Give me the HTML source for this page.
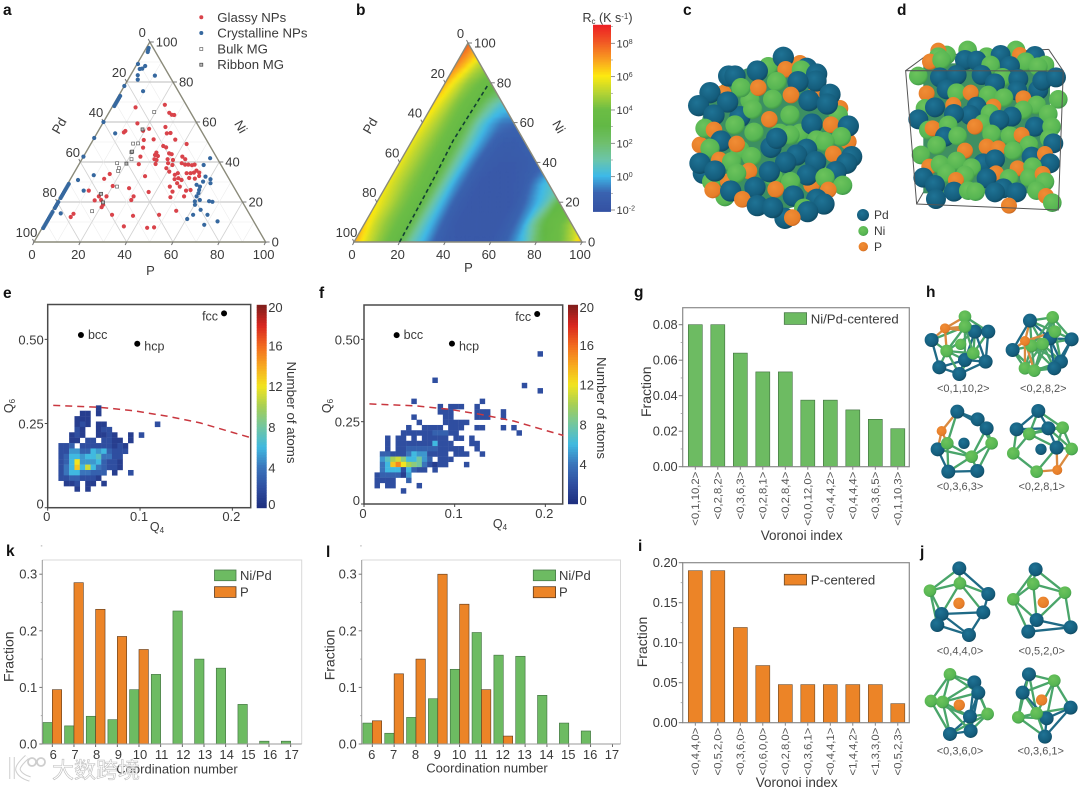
<!DOCTYPE html>
<html lang="en">
<head>
<meta charset="utf-8">
<title>Pd-Ni-P metallic glass figure</title>
<style>
html,body{margin:0;padding:0;background:#fff;}
svg{display:block;filter:blur(.35px);font-family:"Liberation Sans","Noto Sans CJK SC",sans-serif;}
text{fill:#3a3a3a;}
.lbl{font-weight:bold;font-size:15.5px;fill:#111;}
</style>
</head>
<body>
<svg id="fig" xmlns="http://www.w3.org/2000/svg" width="1080" height="789" viewBox="0 0 1080 789">
<defs>
<radialGradient id="gPd" cx="40%" cy="35%" r="70%"><stop offset="0" stop-color="#1f7395"/><stop offset=".75" stop-color="#145c7b"/><stop offset="1" stop-color="#0e4459"/></radialGradient>
<radialGradient id="gNi" cx="40%" cy="35%" r="70%"><stop offset="0" stop-color="#6cc35c"/><stop offset=".75" stop-color="#56b552"/><stop offset="1" stop-color="#3a8f48"/></radialGradient>
<radialGradient id="gP" cx="40%" cy="35%" r="70%"><stop offset="0" stop-color="#f08d35"/><stop offset=".8" stop-color="#e67d28"/><stop offset="1" stop-color="#b95f1d"/></radialGradient>
<clipPath id="clipB"><polygon points="354,242 582,242 468,43"/></clipPath>
<filter id="blurB" x="-10%" y="-10%" width="120%" height="120%"><feGaussianBlur stdDeviation="1.2"/></filter>
</defs>

<g id="panel-a">
<text class="lbl" x="3" y="15">a</text>
<g id="a-plot"></g>
<text x="150.500" y="275" text-anchor="middle" font-size="13">P</text>
<text x="237" y="129" text-anchor="middle" font-size="13" transform="rotate(60 237 129)">Ni</text>
<text x="63" y="128" text-anchor="middle" font-size="13" transform="rotate(-60 63 128)">Pd</text>
<g>
<circle cx="201.300" cy="17.300" r="2" fill="#d9434a"/>
<text x="217.300" y="22" font-size="13.200">Glassy NPs</text>
<circle cx="201.300" cy="33" r="2" fill="#36689f"/>
<text x="217.300" y="37.500" font-size="13.200">Crystalline NPs</text>
<rect x="199.800" y="47.500" width="3" height="3" fill="#fff" stroke="#666" stroke-width=".7"/>
<text x="217.300" y="53.500" font-size="13.200">Bulk MG</text>
<rect x="199.800" y="63.200" width="3" height="3" fill="#bbb" stroke="#444" stroke-width=".7"/>
<text x="217.300" y="69" font-size="13.200">Ribbon MG</text>
</g>
</g>

<g id="panel-b">
<text class="lbl" x="356" y="15">b</text>
<g id="b-plot"></g>
<text x="468.500" y="272" text-anchor="middle" font-size="13">P</text>
<text x="555" y="129" text-anchor="middle" font-size="13" transform="rotate(60 555 129)">Ni</text>
<text x="374" y="128" text-anchor="middle" font-size="13" transform="rotate(-60 374 128)">Pd</text>
<g id="b-colorbar"></g>
<text x="607.500" y="22" text-anchor="middle" font-size="12.500">R<tspan font-size="8" dy="2">c</tspan><tspan dy="-2"> (K s</tspan><tspan font-size="8" dy="-3">-1</tspan><tspan dy="3">)</tspan></text>
</g>

<g id="panel-c">
<text class="lbl" x="683" y="15">c</text>
<g transform="translate(640,0) scale(.3333)">
<circle cx="400" cy="410" r="220" fill="#3c8f62"/>
</g>
<g id="c-atoms" transform="translate(640,0) scale(.3333)"></g>
</g>
<g id="panel-d">
<text class="lbl" x="897" y="15">d</text>
<g transform="translate(640,0) scale(.3333)">
<path d="M857 168 L1226 148 M857 168 L797 212 M1226 148 L1270 213 M830 612 L860 560" fill="none" stroke="#555" stroke-width="3"/>
<rect x="850" y="190" width="380" height="390" fill="#3f8f62"/>
</g>
<g id="d-atoms" transform="translate(640,0) scale(.3333)"></g>
<g transform="translate(640,0) scale(.3333)">
<path d="M797 212 L1270 213 L1255 630 L830 612 Z" fill="none" stroke="#555" stroke-width="3"/>
</g>
<g>
<circle cx="863" cy="215" r="6" fill="url(#gPd)"/>
<text x="874" y="219" font-size="12">Pd</text>
<circle cx="863.300" cy="231" r="5" fill="url(#gNi)"/>
<text x="874" y="235" font-size="12">Ni</text>
<circle cx="863.300" cy="246.700" r="4.700" fill="url(#gP)"/>
<text x="874" y="251" font-size="12">P</text>
</g>
</g>

<g id="panel-e">
<text class="lbl" x="3" y="298">e</text>
<g id="e-plot"></g>
<text x="13" y="406" text-anchor="middle" font-size="12.500" transform="rotate(-90 13 406)">Q<tspan font-size="8" dy="2">6</tspan></text>
<text x="157" y="531" text-anchor="middle" font-size="12.500">Q<tspan font-size="8" dy="2">4</tspan></text>
<text x="287" y="412.500" text-anchor="middle" font-size="13.300" transform="rotate(90 287 412.500)">Number of atoms</text>
</g>
<g id="panel-f">
<text class="lbl" x="319" y="298">f</text>
<g id="f-plot"></g>
<text x="331" y="406" text-anchor="middle" font-size="12.500" transform="rotate(-90 331 406)">Q<tspan font-size="8" dy="2">6</tspan></text>
<text x="500" y="528" text-anchor="middle" font-size="12.500">Q<tspan font-size="8" dy="2">4</tspan></text>
<text x="597" y="408" text-anchor="middle" font-size="13.300" transform="rotate(90 597 408)">Number of atoms</text>
</g>

<g id="panel-g">
<text class="lbl" x="634" y="297">g</text>
<g id="g-plot"></g>
<rect x="784.300" y="312.700" width="22.300" height="11.700" fill="#6dbb62" stroke="#4a7a4a" stroke-width=".8"/>
<text x="810.700" y="323.500" font-size="13.200">Ni/Pd-centered</text>
<text x="651" y="391.700" text-anchor="middle" font-size="14" transform="rotate(-90 651 391.700)">Fraction</text>
<text x="801.700" y="540" text-anchor="middle" font-size="13.500">Voronoi index</text>
</g>
<g id="panel-i">
<text class="lbl" x="638" y="551">i</text>
<g id="i-plot"></g>
<rect x="784.300" y="574.300" width="22.300" height="10.700" fill="#ec8427" stroke="#6a4a2a" stroke-width=".8"/>
<text x="810.700" y="584.500" font-size="13.200">P-centered</text>
<text x="647" y="642" text-anchor="middle" font-size="14" transform="rotate(-90 647 642)">Fraction</text>
<text x="796.700" y="787" text-anchor="middle" font-size="13.500">Voronoi index</text>
</g>

<g id="panel-h">
<text class="lbl" x="926" y="297">h</text>
<g id="h-clusters" transform="translate(620,280) scale(.3333)"></g>
<g font-size="11" text-anchor="middle">
<text x="963.300" y="392" style="fill:#555">&lt;0,1,10,2&gt;</text>
<text x="1043.300" y="392" style="fill:#555">&lt;0,2,8,2&gt;</text>
<text x="960" y="490" style="fill:#555">&lt;0,3,6,3&gt;</text>
<text x="1041.700" y="490" style="fill:#555">&lt;0,2,8,1&gt;</text>
</g>
</g>
<g id="panel-j">
<text class="lbl" x="920" y="557">j</text>
<g id="j-clusters" transform="translate(620,540) scale(.3333)"></g>
<g font-size="11" text-anchor="middle">
<text x="960" y="654.500" style="fill:#555">&lt;0,4,4,0&gt;</text>
<text x="1041.700" y="654.500" style="fill:#555">&lt;0,5,2,0&gt;</text>
<text x="960" y="754.500" style="fill:#555">&lt;0,3,6,0&gt;</text>
<text x="1040.700" y="754.500" style="fill:#555">&lt;0,3,6,1&gt;</text>
</g>
</g>

<g id="panel-k">
<text class="lbl" x="6" y="556">k</text>
<g id="k-plot"></g>
<rect x="214.500" y="570" width="21.500" height="10.700" fill="#6dbb62" stroke="#4a7a4a" stroke-width=".8"/>
<text x="240" y="580" font-size="13">Ni/Pd</text>
<rect x="214.500" y="586.700" width="21.500" height="10.700" fill="#ec8427" stroke="#5a3a1f" stroke-width=".8"/>
<text x="240" y="596.500" font-size="13">P</text>
<text x="13.500" y="656.700" text-anchor="middle" font-size="14" transform="rotate(-90 13.500 656.700)">Fraction</text>
<text x="177" y="773.500" text-anchor="middle" font-size="13">Coordination number</text>
</g>
<g id="panel-l">
<text class="lbl" x="326" y="557">l</text>
<g id="l-plot"></g>
<rect x="533.300" y="570" width="22.300" height="10.700" fill="#6dbb62" stroke="#4a7a4a" stroke-width=".8"/>
<text x="559" y="580" font-size="13">Ni/Pd</text>
<rect x="533.300" y="586.700" width="22.300" height="11" fill="#ec8427" stroke="#5a3a1f" stroke-width=".8"/>
<text x="559" y="596.500" font-size="13">P</text>
<text x="334.500" y="655" text-anchor="middle" font-size="14" transform="rotate(-90 334.500 655)">Fraction</text>
<text x="487" y="772.500" text-anchor="middle" font-size="13">Coordination number</text>
</g>

<g opacity=".95">
<path d="M12 757 L12 779 M27 757 Q17 766 18 770 Q20 776 30 779" fill="none" stroke="#ccc" stroke-width="5.500"/>
<path d="M12 757 L12 779 M27 757 Q17 766 18 770 Q20 776 30 779" fill="none" stroke="#fff" stroke-width="3.500"/>
<circle cx="32" cy="762" r="4" fill="none" stroke="#ccc" stroke-width="1.800"/>
<circle cx="41" cy="762" r="4" fill="none" stroke="#ccc" stroke-width="1.800"/>
<text x="52" y="778" font-size="22" style="fill:#fff;stroke:#bbb;stroke-width:.6px;font-family:'Noto Sans CJK SC',sans-serif">大数跨境</text>
</g>
</svg>

<script>
/* ---------- panel a data: [P, Ni] composition points ---------- */
const glassyNPs=[[10.2,67.3],[22.2,68.6],[26.1,64.6],[27.7,63.6],[28.8,63.5],[15,59.3],[21.4,56.6],[28,57.5],[11.4,54.8],[11.7,55.5],[19.3,55.6],[30.2,54.3],[31.7,54.5],[26,51.3],[35.4,51.2],[21.9,51],[23.5,47.2],[31.8,48],[33.4,47.3],[41.4,49],[24.6,42.7],[30.5,44.7],[30.5,43.5],[32,43],[31.3,41.4],[32.4,41],[36.2,44.3],[37.5,43.9],[37,41.4],[39.5,41],[38.2,39.4],[40.5,38.5],[38.7,36.9],[40.8,35.2],[42.7,42.7],[44.6,41.4],[44.1,39.4],[45.9,38.7],[47.3,38.7],[49,38.4],[50,38.7],[52.3,35.7],[51.7,34.7],[54,34.7],[50.4,34.4],[48.7,34.4],[51,32],[53.6,31.7],[54.8,33],[44,33.6],[44.9,34.4],[45,31.4],[46.4,31.9],[48.2,31],[47.1,29.4],[49.1,27.7],[44.8,27.7],[47.2,25.2],[52.8,25.7],[54.6,26],[53.4,22.8],[47.7,22.4],[33,39],[25.8,38.9],[31.5,32.9],[27.6,26.9],[37,25],[15.7,34],[14.5,31.6],[20,28],[10.8,25.7],[19.9,22.8],[16.6,22.8],[15.8,20.8],[18.5,21],[20.5,18.6],[20.5,17.4],[31.5,21],[31.6,22.8],[26.9,13.6],[36.2,13.1],[47.2,13.6],[53.6,15.6],[34.9,7.8],[45.3,7.1],[48.2,7.3],[10,14.1],[9.6,12.5]];
const crystallineNPs=[[1.3,96],[1,97],[1.6,95],[0.4,89],[0,78],[0.7,73],[0.7,72],[0.7,71],[0.7,70],[0.7,69],[0.7,68],[0,60],[0,52],[0,42.7],[0.5,29],[0.5,28],[0.5,27],[0.5,26],[0.5,25],[0.5,24],[0.5,23],[0.5,22],[0.5,20],[0.5,19],[0.5,18],[0.5,17],[0.5,15],[0.5,14],[0.5,13],[0.5,12],[0.5,11],[0.5,10],[0.5,9],[0.5,8],[0.5,7],[3.4,86.7],[2.4,86.5],[4,88],[3.1,83.4],[4.2,81.2],[10.6,83.2],[9.4,75.4],[7.9,54.3],[9.1,33.4],[3.5,31],[8.6,25.7],[4.4,14.3],[55.1,41.9],[54,38.5],[57.7,32.7],[60.5,31.4],[61.5,29.4],[57.9,30.2],[55.9,28.6],[57.8,27.7],[58.3,26],[58.8,24.4],[58.8,22.8],[59.3,20.3],[60.2,18.6],[61.1,21],[65.4,20.4],[67,20.1],[63.9,16.1],[68.1,13.6],[61.9,13.6],[60.4,11.5],[69.2,8.6],[74.1,10.3]];
const bulkMG=[[19.4,65],[18.2,49.2],[20.3,49.3],[21.4,41.4],[16.2,39.4],[18.2,36.9],[18.6,35.5],[17.4,15.4],[22,27.7],[19.6,44.9]];
const ribbonMG=[[18.7,56.3],[19.8,45.2],[20.3,39.2],[16.9,24.1],[19.9,19.8]];
const ternaryTicks=[0,20,40,60,80,100];

/* ---------- panel b data: log10(Rc) on a grid; rows are Ni = 0,10,..; columns are P = 0,5,.. ---------- */
const rcNiStep=10;
const rcPStep=5;
const rcLogGrid=[
[7.0,5.6,4.6,3.9,3.0,1.0,0,-1,-1.5,-1.6,-1.7,-1.7,-1.6,-1.3,-0.6,0.3,2.2,3.5,3.9,4.8,7.0],
[6.4,5.2,4.4,3.9,3.0,1.0,-0.2,-1.2,-1.6,-1.7,-1.7,-1.7,-1.6,-1.2,-0.3,1.6,3.4,3.8,4.6,6.0],
[6.0,5.2,4.4,3.9,3.0,1.0,-0.3,-1.3,-1.6,-1.7,-1.7,-1.7,-1.6,-1.0,-0.2,0.8,3.0,3.5],
[5.8,5.0,4.3,3.9,3.0,1.0,-0.4,-1.2,-1.6,-1.7,-1.7,-1.6,-1.4,-0.6,0.3,0.8],
[5.8,5.0,4.3,3.8,2.9,1.0,-0.3,-1.2,-1.5,-1.6,-1.6,-1.5,-1.2,-1.0],
[5.8,5.0,4.3,3.8,2.8,1.0,-0.2,-1.0,-1.4,-1.5,-1.3,-1.1],
[6.0,5.1,4.3,3.8,2.7,0.8,-0.2,-0.8,-0.9,-0.9],
[6.3,5.3,4.3,3.8,3.0,1.5,0.5,0.4],
[6.8,5.6,4.5,4.0,3.5,3.2],
[7.5,6.5,5.2,4.5],
[8.0,7.0]];
const rcDashNi=[0,33,51,64,79];
const rcDashP=[20,19,18,18.6,19.3];
const rcColorValues=[-2,-1,0,1,2,3,4,5,6,7,8,9];
const rcColors=['#3553a4','#3a63b0','#3db9e8','#6cc5a8','#6fbf6c','#62b845','#6cbd45','#b6d433','#fde910','#f99d20','#f15a24','#ed2224'];
const rcTickExponents=[-2,0,2,4,6,8];

/* ---------- panels e/f data: Q4/Q6 histograms; each row is [Q6 bin, first Q4 bin, counts...] ---------- */
const binQ4=0.0058, binQ6=0.016;
const countsE=[
[18,9,[1]],[17,6,[1,1,0,1]],[16,5,[1,1,1]],[15,5,[1,2,1,0,1,1]],[15,20,[2]],
[14,5,[2,1,0,0,1,2,2]],[13,4,[1,2,1,0,0,1,1,2,1,0,0,1,0,2]],[12,4,[1,1,0,2,2,0,2,2,1,1,0,1]],
[11,2,[2,2,3,0,2,2,2,2,2,2,1,2,1]],[10,2,[2,2,5,5,3,3,6,5,6,3,2,2,2]],[9,2,[2,3,6,6,5,6,6,7,4,4,2,2]],
[8,2,[2,3,6,12,5,5,5,6,3,2,2,1]],[7,2,[2,4,6,13,6,11,6,4,3,2,2,1]],[6,2,[2,4,6,6,4,4,3,3,3,0,1]],[6,15,[2]],
[5,2,[2,2,3,3,2,2,2,1]],[4,3,[1,1,2,0,1,1,0,1]],[3,5,[1,0,1]]];
const countsF=[
[28,33,[2]],[23,13,[2]],[22,30,[2]],[21,33,[2]],[19,9,[2]],[19,22,[2]],
[18,14,[2,0,2,2,2,0,0,2]],[17,14,[2,2,2,0,0,0,0,2,2,2,0,0,2]],[16,9,[2]],[16,15,[2,2,0,0,0,0,2,2,2,0,0,2]],
[15,10,[2,0,0,0,0,2,2,2,2,2]],[14,8,[2,0,0,2,2,2,2,0,2,2,2,0,0,2,2,0,0,0,2,0,2]],[13,7,[2,2,2,2,2,2,3,3,3,2,2]],[13,29,[2]],
[12,4,[2,0,2,2,0,2,0,2,2,2,2,2,0,2,2,0,2]],[11,4,[2,0,2,2,2,2,2,2,2,6,2,2,2,0,0,0,2,2]],
[10,4,[2,0,2,2,3,3,3,3,3,3,2,2,2,2,2,0,0,2]],[9,3,[3,3,2,2,2,4,6,5,5,2,2,2,2,0,2,2,2,0,0,2]],
[8,3,[5,7,10,11,9,6,6,8,5,3,0,2,2,2]],[7,3,[4,6,13,15,12,10,9,8,4,2,1,2,2,0,0,0,2]],[6,3,[4,6,6,6,2,6,3,2,2,0,2]],
[5,2,[2,3,3,3,3,1,5]],[4,2,[2,2,2,2,0,0,3]],[3,2,[2,0,2,2,0,0,0,0,2]],[2,7,[2]]];
const dashQ4=[0.006,0.057,0.093,0.129,0.165,0.201,0.22];
const dashQ6=[0.304,0.298,0.288,0.272,0.252,0.223,0.208];
const refNames=['bcc','hcp','fcc'];
const refQ4=[0.036,0.097,0.191];
const refQ6=[0.513,0.487,0.577];
const q4Ticks=[0,0.1,0.2];
const q6Ticks=[0,0.25,0.5];
const q6TickLabels=['0','0.25','0.50'];
const countTicks=[0,4,8,12,16,20];
const countColorValues=[0,2,4,6,8,10,12,14,16,18,20];
const countColors=['#1e2e7e','#2f4ea0','#3a74bb','#40b9e0','#72c6a0','#a6cf55','#f2e41f','#f7a81f','#f2691f','#d8251f','#7e1d1c'];

/* ---------- panels g/i data ---------- */
const voronoiG=['<0,1,10,2>','<0,2,8,2>','<0,3,6,3>','<0,2,8,1>','<0,2,8,4>','<0,0,12,0>','<0,4,4,2>','<0,4,4,4>','<0,3,6,5>','<0,1,10,3>'];
const fractionG=[0.08,0.08,0.064,0.0534,0.0534,0.0375,0.0375,0.032,0.0267,0.0214];
const ticksG=[0,0.02,0.04,0.06,0.08];
const voronoiI=['<0,4,4,0>','<0,5,2,0>','<0,3,6,0>','<0,6,0,0>','<0,2,8,0>','<0,3,6,1>','<0,4,4,1>','<1,4,4,2>','<1,3,3,0>','<0,5,2,3>'];
const fractionI=[0.19,0.19,0.119,0.0714,0.0476,0.0476,0.0476,0.0476,0.0476,0.0238];
const ticksI=[0,0.05,0.1,0.15,0.2];

/* ---------- panels k/l data ---------- */
const coordNumbers=[6,7,8,9,10,11,12,13,14,15,16,17];
const niPdK=[0.038,0.032,0.049,0.043,0.096,0.123,0.235,0.15,0.134,0.07,0.005,0.005];
const pK=[0.096,0.285,0.238,0.19,0.167,0,0,0,0,0,0,0];
const niPdL=[0.037,0.019,0.047,0.08,0.132,0.197,0.157,0.155,0.086,0.037,0.023,0];
const pL=[0.041,0.124,0.15,0.3,0.247,0.096,0.014,0,0,0,0,0];
const fractionTicks=[0,0.1,0.2,0.3];

/* ---------- illustrative atom models ---------- */
const sceneC="P 480 190;P 250 280;Ni 385 200;Pd 500 205;P 530 275;P 600 325;Ni 595 345;P 625 425;P 180 435;Pd 190 520;Ni 215 545;P 265 545;Ni 255 590;P 515 555;Ni 560 530;Pd 435 655;Ni 330 300;Ni 420 400;Ni 300 450;Ni 480 400;Ni 400 530;Pd 300 350;Pd 430 172;Pd 266 228;Pd 285 228;Pd 352 213;P 437 208;Ni 484 210;Pd 530 222;Pd 528 243;Ni 410 245;Pd 474 245;Pd 210 278;Ni 303 263;P 355 263;Pd 570 283;P 453 285;Ni 398 298;Pd 176 317;Pd 263 306;Pd 507 302;Pd 562 312;Pd 222 345;Ni 338 328;Ni 450 345;P 388 358;Ni 285 375;Pd 516 372;P 573 374;Pd 625 378;Ni 195 385;P 222 390;Ni 342 397;Ni 450 405;Ni 530 420;Ni 604 410;Pd 243 423;P 290 432;Ni 555 425;Pd 393 442;Pd 410 415;P 580 462;Ni 210 445;P 238 480;Ni 335 470;Pd 500 448;Pd 635 470;Pd 180 490;Ni 275 485;Pd 620 490;Pd 470 465;Pd 437 487;Pd 527 485;Pd 225 513;P 327 513;Pd 388 515;Ni 290 520;Pd 588 515;Pd 502 525;Ni 555 533;Ni 452 545;Pd 345 562;P 407 568;Ni 608 556;P 218 570;Pd 272 573;P 565 570;Pd 460 588;P 307 598;Pd 352 617;Pd 398 623;Pd 530 598;Pd 552 612;Ni 491 625;Pd 503 635;P 457 653";
const sceneD="Ni 920 165;P 895 152;Ni 895 170;Ni 983 150;Ni 1128 150;P 1140 165;P 870 185;Ni 905 180;Ni 1040 170;Pd 1185 168;Pd 975 180;Pd 1010 182;Pd 1082 165;Ni 1052 195;Ni 1157 185;Ni 1215 195;Pd 1110 198;Ni 1195 200;Ni 835 228;Pd 900 232;Pd 950 225;Pd 1025 225;Ni 1088 232;Pd 1135 237;Pd 1195 270;Pd 1207 242;Pd 1248 232;Pd 920 268;Pd 1065 250;Ni 950 278;P 860 280;P 992 278;Pd 1132 272;Ni 1045 285;Ni 1092 293;Ni 1255 298;P 1150 295;Ni 855 325;Pd 885 322;P 940 315;P 1060 320;Ni 1190 315;Pd 1010 320;Pd 990 345;Pd 942 342;Ni 1050 340;Ni 1150 330;Pd 1115 350;Ni 1225 342;Pd 835 358;Ni 865 390;P 878 385;Ni 925 375;Ni 1030 370;P 1005 380;Pd 1078 360;Pd 1185 380;Ni 1235 380;Pd 915 410;Ni 953 408;Ni 1055 402;Ni 1110 407;P 1145 405;Ni 890 436;Ni 1228 415;Pd 1240 430;P 975 452;Ni 1167 435;P 1040 440;P 1075 445;Ni 1120 452;Ni 843 465;P 868 500;Ni 900 493;Ni 950 483;Pd 1175 470;P 1215 462;Pd 1030 490;Pd 1065 478;Ni 995 503;Pd 1230 490;P 1133 505;Ni 1178 500;Ni 920 520;Ni 975 525;P 1068 520;Pd 850 533;P 948 540;Pd 1040 535;Ni 1107 535;Ni 1168 533;P 1208 522;Ni 1215 545;Pd 885 555;Pd 942 575;Ni 985 572;Ni 1007 575;Pd 1090 565;Pd 1065 577;Pd 1130 577;Ni 1190 572;Pd 888 597;P 1218 588;Ni 1237 608;P 1107 617";
const clustersH=[
"Pd 935 180;Pd 1105 155;Pd 1065 155;Pd 958 262;Pd 1018 282;Pd 1097 245;Pd 1035 240;Ni 1035 110;Ni 1035 140;Ni 980 213;Ni 1060 220;cNi 1022 193;P 975 145",
"Pd 1230 122;Pd 1178 210;Pd 1355 178;Pd 1323 245;Pd 1303 265;Pd 1290 175;Ni 1298 112;Ni 1305 155;Ni 1235 198;Ni 1268 192;Ni 1215 265;Ni 1243 272;P 1215 183",
"Pd 1012 395;Pd 1073 418;Pd 1100 445;Pd 953 508;Pd 985 575;Pd 1072 573;cPd 1032 490;Ni 1115 490;Ni 1055 530;Ni 982 490;P 965 453",
"Pd 1255 393;Pd 1190 448;Pd 1285 445;cPd 1263 508;Pd 1310 503;Ni 1328 443;Ni 1355 507;Ni 1180 520;Ni 1228 462;Ni 1250 575;P 1312 570"];
const clustersJ=[
"Pd 1018 85;Pd 1105 162;Pd 1090 217;Pd 965 222;Pd 952 255;Pd 1047 285;Ni 930 152;Ni 1020 130;cP 1017 190",
"Pd 1247 88;Pd 1352 262;Pd 1250 240;Pd 1225 275;Ni 1180 178;Ni 1240 132;Ni 1335 158;cP 1270 187",
"Pd 1063 427;Pd 1075 458;Pd 1050 530;Pd 990 582;Pd 1052 573;Ni 990 403;Ni 933 483;Ni 968 486;Ni 1103 522;cP 1018 495",
"Pd 1227 403;Pd 1208 458;Pd 1352 503;Pd 1280 535;Pd 1275 590;Ni 1303 422;Ni 1195 532;Ni 1250 520;cP 1265 480"];

/* ---------- helpers ---------- */
const NS='http://www.w3.org/2000/svg';
function mk(tag,parent,props){
  const n=document.createElementNS(NS,tag);
  for(const k in props)n.setAttribute(k,props[k]);
  parent.appendChild(n);
  return n;
}
function word(parent,x,y,str,size,anchor){
  const t=mk('text',parent,{x:x,y:y,'font-size':size,'text-anchor':anchor||'middle'});
  t.textContent=str;
  return t;
}
function hex(c){return [1,3,5].map(i=>parseInt(c.substr(i,2),16));}
function ramp(values,colors,v){
  if(v<=values[0])return colors[0];
  for(let i=1;i<values.length;i++){
    if(v<=values[i]){
      const f=(v-values[i-1])/(values[i]-values[i-1]);
      const a=hex(colors[i-1]),b=hex(colors[i]);
      return 'rgb('+a.map((c,j)=>Math.round(c+(b[j]-c)*f)).join(',')+')';
    }
  }
  return colors[colors.length-1];
}
function linePath(pts){return pts.map((p,i)=>(i?'L':'M')+p[0].toFixed(2)+' '+p[1].toFixed(2)).join(' ');}

/* ---------- ternary frame ---------- */
function ternaryProjection(x0,y0,w,h){
  return (P,Ni)=>[x0+w*(P+Ni/2)/100,y0-h*Ni/100];
}
function ternaryFrame(g,T,withGrid){
  if(withGrid){
    for(let v=10;v<100;v+=10){
      const major=v%20===0;
      const segs=[[T(v,0),T(v,100-v)],[T(100-v,0),T(0,100-v)],[T(0,v),T(100-v,v)]];
      segs.forEach((s,k)=>{
        const gl=mk('line',g,{x1:s[0][0],y1:s[0][1],x2:s[1][0],y2:s[1][1],stroke:major?(k===2?'#bdbdbd':'#d2d2d2'):'#ececec','stroke-width':major?(k===2?1.1:.8):.6});
        
        
      });
    }
  }
  const a=T(0,0),b=T(100,0),c=T(0,100);
  const frame=mk('polygon',g,{points:[a,b,c].map(p=>p.join(',')).join(' '),fill:'none',stroke:'#8a8a7a','stroke-width':1.4});
  
  
  ternaryTicks.forEach(v=>{
    const pb=T(v,0),pr=T(100-v,v),pl=T(0,100-v);
    const t1=mk('line',g,{x1:pb[0],y1:pb[1],x2:pb[0]-1.5,y2:pb[1]+3,stroke:'#777','stroke-width':1});
    
    
    const t2=mk('line',g,{x1:pr[0],y1:pr[1],x2:pr[0]+4,y2:pr[1],stroke:'#777','stroke-width':1});
    
    
    const t3=mk('line',g,{x1:pl[0],y1:pl[1],x2:pl[0]-1.5,y2:pl[1]-3,stroke:'#777','stroke-width':1});
    
    
    const lb=word(g,pb[0]-2,pb[1]+17,String(v),13);
    
    
    const lr=word(g,pr[0]+6,pr[1]+4.5,String(v),13,'start');
    
    
    const ll=word(g,pl[0]-7.5,pl[1]-5,String(v),13);
    
    
  });
}

/* ---------- panel a ---------- */
(function(){
  const g=document.getElementById('a-plot');
  const T=ternaryProjection(34,242,231.6,200);
  ternaryFrame(g,T,true);
  glassyNPs.forEach(d=>{
    const p=T(d[0],d[1]);
    const c=mk('circle',g,{cx:p[0],cy:p[1],r:2.1,fill:'#d9434a'});
    
    
  });
  crystallineNPs.forEach(d=>{
    const p=T(d[0],d[1]);
    const c=mk('circle',g,{cx:p[0],cy:p[1],r:2.1,fill:'#36689f'});
    
    
  });
  bulkMG.forEach(d=>{
    const p=T(d[0],d[1]);
    const c=mk('rect',g,{x:p[0]-1.5,y:p[1]-1.5,width:3,height:3,fill:'#fff',stroke:'#666','stroke-width':.7});
    
    
  });
  ribbonMG.forEach(d=>{
    const p=T(d[0],d[1]);
    const c=mk('rect',g,{x:p[0]-1.5,y:p[1]-1.5,width:3,height:3,fill:'#bbb',stroke:'#444','stroke-width':.7});
    
    
  });
})();

/* ---------- panel b ---------- */
function rcAt(P,Ni){
  const rowValue=(row,p)=>{
    const u=Math.max(0,p/rcPStep);
    const i=Math.floor(u);
    if(i>=row.length-1)return row[row.length-1];
    return row[i]+(row[i+1]-row[i])*(u-i);
  };
  const w=Math.min(rcLogGrid.length-1,Math.max(0,Ni/rcNiStep));
  const j=Math.floor(w);
  const lo=rowValue(rcLogGrid[j],P);
  if(j>=rcLogGrid.length-1)return lo;
  return lo+(rowValue(rcLogGrid[j+1],P)-lo)*(w-j);
}
(function(){
  const g=document.getElementById('b-plot');
  const T=ternaryProjection(354,242,228,199);
  const clip=mk('g',g,{'clip-path':'url(#clipB)'});
  const blur=mk('g',clip,{filter:'url(#blurB)'});
  const dN=2.5,dP=1.25;
  for(let n=-5;n<102;n+=dN){
    for(let p=-6;p<106-n;p+=dP){
      const col=ramp(rcColorValues,rcColors,rcAt(p+dP/2,n+dN/2));
      const pts=[T(p,n),T(p+dP,n),T(p+dP,n+dN),T(p,n+dN)];
      const cell=mk('polygon',blur,{points:pts.map(q=>q[0].toFixed(1)+','+q[1].toFixed(1)).join(' '),fill:col,stroke:col,'stroke-width':.5});
      
      
    }
  }
  ternaryFrame(g,T,false);
  const dash=mk('path',g,{d:linePath(rcDashNi.map((n,i)=>T(rcDashP[i],n))),fill:'none',stroke:'#123f33','stroke-width':1.6,'stroke-dasharray':'4 3'});
  
  
  /* colorbar */
  const cb=document.getElementById('b-colorbar');
  const yOf=v=>210-(v+2)*16.67;
  for(let v=-2.1;v<9;v+=0.1){
    const r=mk('rect',cb,{x:593,y:yOf(v+0.1)-.2,width:18,height:2.1,fill:ramp(rcColorValues,rcColors,v)});
    
    
  }
  rcTickExponents.forEach(e=>{
    const y=yOf(e);
    const t=mk('line',cb,{x1:611,y1:y,x2:615,y2:y,stroke:'#777','stroke-width':.8});
    
    
    const m=mk('line',cb,{x1:611,y1:y-16.67,x2:613,y2:y-16.67,stroke:'#999','stroke-width':.7});
    
    
    const lab=word(cb,616.5,y+4,'10',11,'start');
    
    
    const sup=document.createElementNS(NS,'tspan');
    sup.setAttribute('font-size','7');
    sup.setAttribute('dy','-3.5');
    sup.textContent=String(e);
    lab.appendChild(sup);
  });
})();

/* ---------- panels e, f ---------- */
function bondHeatmap(id,rows,x0,y0,sx,sy,right,top,cbX,cbTopY,cbBottomY,lab){
  const g=document.getElementById(id);
  const X=v=>x0+v*sx, Y=v=>y0-v*sy;
  rows.forEach(r=>{
    r[2].forEach((n,ci)=>{
      if(!n)return;
      const i=r[1]+ci;
      const cell=mk('rect',g,{x:X(i*binQ4),y:Y((r[0]+1)*binQ6),width:binQ4*sx+.2,height:binQ6*sy+.2,fill:ramp(countColorValues,countColors,n)});
      
      
    });
  });
  const frame=mk('rect',g,{x:x0,y:top,width:right-x0,height:y0-top,fill:'none',stroke:'#4a4a4a','stroke-width':1.5});
  
  
  const dash=mk('path',g,{d:linePath(dashQ4.map((q,i)=>[X(q),Y(dashQ6[i])])),fill:'none',stroke:'#c9373f','stroke-width':1.5,'stroke-dasharray':'7 5'});
  
  
  refNames.forEach((name,i)=>{
    const px=X(refQ4[i]),py=Y(refQ6[i]);
    const c=mk('circle',g,{cx:px,cy:py,r:3,fill:'#000'});
    
    
    const t=name==='fcc'?word(g,px-6,py+7,name,12.5,'end'):word(g,px+7,py+(name==='hcp'?7:4),name,12.5,'start');
    
    
  });
  q4Ticks.forEach(v=>{
    const tk=mk('line',g,{x1:X(v),y1:y0,x2:X(v),y2:y0+3,stroke:'#444','stroke-width':1});
    
    
    const t=word(g,X(v)-1,lab.xLabelY,v===0?'0':String(v),13);
    
    
  });
  q6Ticks.forEach((v,i)=>{
    const tk=mk('line',g,{x1:x0-3,y1:Y(v),x2:x0,y2:Y(v),stroke:'#444','stroke-width':1});
    
    
    const t=word(g,x0-4,Y(v)+(v===0?lab.zeroDy:5),q6TickLabels[i],13,'end');
    
    
  });
  const cbY=v=>cbBottomY-(cbBottomY-cbTopY)*v/20;
  for(let v=0;v<20;v+=0.25){
    const s=mk('rect',g,{x:cbX,y:cbY(v+0.25)-.2,width:10,height:(cbBottomY-cbTopY)/80+.4,fill:ramp(countColorValues,countColors,v+0.125)});
    
    
  }
  countTicks.forEach(v=>{
    const t=word(g,cbX+11.5,cbY(v)+(v===20?7:v===0?1:5),String(v),13,'start');
    
    
  });
}
bondHeatmap('e-plot',countsE,47.7,507.7,923.3,336.7,250.7,304.5,256.7,305,508,{xLabelY:521,zeroDy:1});
bondHeatmap('f-plot',countsF,364,504,906.7,329.3,562.7,305,568,305,504,{xLabelY:518,zeroDy:1});

/* ---------- panels g, i ---------- */
function voronoiBars(id,cats,vals,ticks,y0,top,scale,fmtDigits,fill,edge){
  const g=document.getElementById(id);
  const x0=682.7,x1=909.3,step=22.5,offset=12.6,w=14;
  const Y=v=>y0-v*scale;
  vals.forEach((v,i)=>{
    const cx=x0+offset+step*i;
    const b=mk('rect',g,{x:cx-w/2,y:Y(v),width:w,height:y0-Y(v),fill:fill,stroke:edge,'stroke-width':.6});
    
    
    const tk=mk('line',g,{x1:cx,y1:y0,x2:cx,y2:y0+3,stroke:'#777','stroke-width':.9});
    
    
    const lab=word(g,0,0,cats[i],11.3,'end');
    lab.setAttribute('transform','translate('+(cx+3.8)+','+(y0+5)+') rotate(-90)');
    lab.setAttribute('style','fill:#555');
    
    
  });
  const frame=mk('rect',g,{x:x0,y:top,width:x1-x0,height:y0-top,fill:'none',stroke:'#8a8a8a','stroke-width':1.2});
  
  
  ticks.forEach((v,i)=>{
    const y=Y(v);
    const tk=mk('line',g,{x1:x0-4,y1:y,x2:x0,y2:y,stroke:'#777','stroke-width':1});
    
    
    if(i<ticks.length-1){
      const my=Y((v+ticks[i+1])/2);
      const m=mk('line',g,{x1:x0-2,y1:my,x2:x0,y2:my,stroke:'#999','stroke-width':.8});
      
      
    }
    const t=word(g,x0-5,y+4.5,v.toFixed(fmtDigits),12.8,'end');
    
    
  });
}
voronoiBars('g-plot',voronoiG,fractionG,ticksG,466.7,307.7,1775,2,'#6dbb62','#3f6d3f');
voronoiBars('i-plot',voronoiI,fractionI,ticksI,722.7,562.7,800,2,'#ec8427','#6a4a2a');

/* ---------- panels k, l ---------- */
function coordBars(id,niVals,pVals,left,right,t0,step,labelDx){
  const g=document.getElementById(id);
  const y0=744,top=560,scale=566,w=9.4;
  const Y=v=>y0-v*scale;
  const topLine=mk('path',g,{d:'M'+left+' '+top+' L'+right+' '+top+' L'+right+' '+y0,fill:'none',stroke:'#d8d8d8','stroke-width':1});
  
  
  coordNumbers.forEach((n,i)=>{
    const t=t0+step*i;
    if(niVals[i]>0){
      const b=mk('rect',g,{x:t-w,y:Y(niVals[i]),width:w,height:y0-Y(niVals[i]),fill:'#6dbb62',stroke:'#3f6d3f','stroke-width':.6});
      
      
    }
    if(pVals[i]>0){
      const b=mk('rect',g,{x:t,y:Y(pVals[i]),width:w,height:y0-Y(pVals[i]),fill:'#ec8427',stroke:'#5a3a1f','stroke-width':.6});
      
      
    }
    const tk=mk('line',g,{x1:t,y1:y0,x2:t,y2:y0+3,stroke:'#555','stroke-width':.9});
    
    
    const lab=word(g,t+labelDx,759,String(n),13);
    
    
  });
  const axes=mk('path',g,{d:'M'+left+' '+top+' L'+left+' '+y0+' L'+right+' '+y0,fill:'none',stroke:'#999','stroke-width':1});
  
  
  fractionTicks.forEach(v=>{
    const y=Y(v);
    const tk=mk('line',g,{x1:left-3,y1:y,x2:left,y2:y,stroke:'#777','stroke-width':1});
    
    
    const m=mk('line',g,{x1:left-1.5,y1:Y(v+0.05),x2:left,y2:Y(v+0.05),stroke:'#999','stroke-width':.8});
    
    
    const t=word(g,left-5,y+4.5,v.toFixed(1),13,'end');
    
    
  });
}
coordBars('k-plot',niPdK,pK,42.3,301.7,52.3,21.67,1);
coordBars('l-plot',niPdL,pL,361.7,620.5,372.3,21.83,-0.5);

/* ---------- atoms ---------- */
const atomFill={Pd:'url(#gPd)',Ni:'url(#gNi)',P:'url(#gP)'};
function parseAtoms(s){return s.split(';').map(a=>{const p=a.split(' ');return {t:p[0],x:+p[1],y:+p[2]};});}
function drawScene(id,scene,radii){
  const g=document.getElementById(id);
  parseAtoms(scene).forEach(a=>{
    const c=mk('circle',g,{cx:a.x,cy:a.y,r:radii[a.t],fill:atomFill[a.t]});
    
    
  });
}
drawScene('c-atoms',sceneC,{Pd:32,Ni:29,P:25});
drawScene('d-atoms',sceneD,{Pd:30,Ni:28,P:24});

function drawClusters(id,list,reach){
  const root=document.getElementById(id);
  list.forEach(s=>{
    const g=mk('g',root,{});
    
    
    const nodes=parseAtoms(s);
    const shell=nodes.filter(n=>n.t[0]!=='c');
    shell.forEach((a,i)=>{
      shell.slice(i+1).forEach(b=>{
        const d=Math.hypot(a.x-b.x,a.y-b.y);
        if(d<reach){
          const col=(a.t==='P'||b.t==='P')?'#d98a40':(a.t==='Pd'&&b.t==='Pd')?'#1f6a86':'#4aa56a';
          const bond=mk('line',g,{x1:a.x,y1:a.y,x2:b.x,y2:b.y,stroke:col,'stroke-width':7});
          
          
        }
      });
    });
    nodes.forEach(n=>{
      const type=n.t[0]==='c'?n.t.slice(1):n.t;
      const r=n.t[0]==='c'?17:type==='Pd'?21:type==='Ni'?19:15;
      const c=mk('circle',g,{cx:n.x,cy:n.y,r:r,fill:atomFill[type]});
      
      
    });
  });
}
drawClusters('h-clusters',clustersH,108);
drawClusters('j-clusters',clustersJ,135);
</script>
</body>
</html>
